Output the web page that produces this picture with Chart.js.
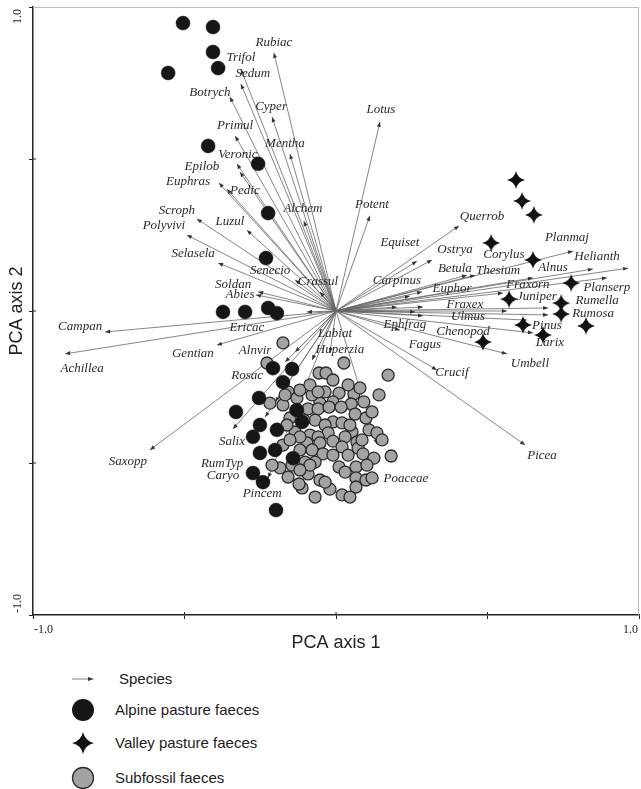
<!DOCTYPE html>
<html><head><meta charset="utf-8">
<script src="https://cdn.jsdelivr.net/npm/chart.js@4.4.1/dist/chart.umd.min.js"></script>
<style>
html,body{margin:0;padding:0;background:#fff;}
#wrap{position:relative;width:641px;height:789px;overflow:hidden;}
#c{position:absolute;left:0;top:0;}
.lg{position:absolute;left:0;font:15px "Liberation Sans",Arial,sans-serif;color:#222;line-height:20px;white-space:nowrap;}
.lg svg{position:absolute;}
</style></head><body>
<div id="wrap">
<canvas id="c" width="641" height="660"></canvas>
<div id="legend"></div>
</div>
<script>
// ---- data (PCA scores) ----
const speciesNames = ["Rubiac","Trifol","Sedum","Botrych","Cyper","Primul","Mentha","Veronic","Epilob","Euphras","Pedic","Scroph","Polyvivi","Luzul","Alchem","Selasela","Senecio","Crassul","Soldan","Abies","Ericac","Campan","Achillea","Gentian","Alnvir","Rosac","Labiat","Huperzia","Saxopp","Salix","RumTyp","Caryo","Pincem","Poaceae","Picea","Lotus","Potent","Querrob","Equiset","Ostrya","Carpinus","Betula","Thesium","Corylus","Planmaj","Helianth","Alnus","Planserp","Fraxorn","Euphor","Juniper","Rumella","Fraxex","Ulmus","Rumosa","Pinus","Ephfrag","Chenopod","Larix","Fagus","Umbell","Crucif"];
const speciesX = [-0.205,-0.314,-0.314,-0.350,-0.211,-0.333,-0.152,-0.327,-0.317,-0.386,-0.360,-0.459,-0.492,-0.294,-0.106,-0.389,-0.135,-0.053,-0.257,-0.264,-0.096,-0.762,-0.894,-0.393,-0.135,-0.168,-0.079,-0.020,-0.614,-0.340,-0.234,-0.201,-0.224,0.135,0.624,0.145,0.112,0.406,0.267,0.317,0.244,0.432,0.459,0.650,0.782,0.964,0.848,0.894,0.551,0.284,0.564,0.700,0.287,0.287,0.700,0.630,0.201,0.261,0.650,0.211,0.564,0.333];
const speciesY = [0.849,0.796,0.747,0.704,0.638,0.576,0.516,0.484,0.457,0.421,0.401,0.303,0.250,0.266,0.296,0.158,0.102,0.063,0.063,0.053,-0.003,-0.069,-0.141,-0.112,-0.135,-0.168,-0.161,-0.138,-0.457,-0.388,-0.349,-0.299,-0.549,-0.438,-0.441,0.622,0.313,0.280,0.164,0.168,0.049,0.118,0.118,0.109,0.197,0.141,0.138,0.109,0.059,0.063,0.000,0.010,0.013,-0.016,-0.013,-0.030,0.013,-0.003,-0.072,-0.063,-0.141,-0.194];

const alpineX = [-0.505,-0.406,-0.406,-0.554,-0.389,-0.422,-0.257,-0.224,-0.231,-0.373,-0.300,-0.224,-0.195,-0.208,-0.145,-0.175,-0.254,-0.330,-0.251,-0.195,-0.274,-0.201,-0.251,-0.129,-0.112,-0.142,-0.274,-0.241,-0.198];
const alpineY = [0.947,0.934,0.852,0.783,0.799,0.543,0.484,0.322,0.174,-0.003,-0.003,0.010,-0.007,-0.188,-0.191,-0.234,-0.286,-0.332,-0.375,-0.391,-0.414,-0.457,-0.467,-0.326,-0.365,-0.484,-0.533,-0.563,-0.655];

const valleyX = [0.594,0.614,0.653,0.512,0.650,0.776,0.571,0.743,0.743,0.617,0.683,0.825,0.485];
const valleyY = [0.431,0.362,0.316,0.224,0.168,0.092,0.039,0.026,-0.010,-0.046,-0.079,-0.049,-0.102];

const subfossilX = [-0.175,-0.228,0.026,-0.056,-0.033,-0.010,0.172,-0.158,-0.218,0.010,0.059,0.142,0.092,0.050,-0.010,-0.053,-0.092,-0.059,-0.023,0.017,0.063,-0.069,-0.010,0.020,-0.036,0.109,0.135,0.053,-0.086,-0.026,-0.059,0.030,0.069,-0.010,-0.096,-0.053,0.020,0.073,0.089,0.125,0.182,-0.079,-0.043,-0.102,-0.069,0.010,0.030,0.066,-0.092,-0.053,-0.020,0.066,0.066,0.020,-0.112,-0.036,-0.152,-0.135,-0.185,-0.158,-0.122,-0.119,-0.129,-0.175,-0.162,-0.175,-0.145,-0.211,-0.119,-0.106,-0.132,-0.036,-0.079,0.099,0.040,-0.010,0.099,-0.086,-0.152,
  -0.119,-0.086,0.040,0.079,0.119,0.152,0.102,0.046,-0.069,-0.119,0.046,0.086,-0.168,-0.059,0.119];
const subfossilY = [-0.105,-0.171,-0.171,-0.204,-0.204,-0.227,-0.211,-0.266,-0.303,-0.270,-0.273,-0.276,-0.299,-0.306,-0.299,-0.303,-0.322,-0.322,-0.316,-0.316,-0.339,-0.359,-0.365,-0.368,-0.375,-0.391,-0.401,-0.398,-0.408,-0.401,-0.414,-0.414,-0.431,-0.428,-0.434,-0.434,-0.447,-0.451,-0.470,-0.484,-0.477,-0.457,-0.470,-0.497,-0.497,-0.513,-0.530,-0.513,-0.536,-0.556,-0.586,-0.549,-0.579,-0.605,-0.582,-0.563,-0.352,-0.398,-0.516,-0.546,-0.569,-0.457,-0.286,-0.309,-0.375,-0.441,-0.507,-0.507,-0.414,-0.359,-0.326,-0.266,-0.276,-0.352,-0.474,-0.474,-0.556,-0.507,-0.424,
  -0.260,-0.243,-0.243,-0.253,-0.332,-0.424,-0.507,-0.612,-0.612,-0.523,-0.375,-0.424,-0.276,-0.266,-0.549];

const xTickLabels = ["-1.0","1.0"];
const yTickLabels = ["-1.0","1.0"];
const axisTitles = ["PCA axis 1","PCA axis 2"];
const legendLabels = ["Species","Alpine pasture faeces","Valley pasture faeces","Subfossil faeces"];

// ---- label placement (pixel nudges from arrow tips) ----
const labelNudge = [[0,-10],[0,-11],[12,-10],[-20,-4],[-1,-10],[0,-10],[-5,-11],[1,-9],[-38,-5],[-31,-1],[18,1],[-20,-8],[-23,-9],[-17,-9],[-1,-12],[-25,-9],[-25,-9],[-2,-10],[-25,-7],[-16,0],[-60,16],[-25,-5],[17,15],[-24,9],[-40,-1],[-38,14],[23,-26],[10,-3],[-22,12],[-1,13],[-43,46],[-52,74],[-6,16],[29,34],[17,11],[1,-12],[2,-11],[23,-9],[-17,-19],[23,-10],[-13,-16],[-12,-7],[23,-5],[-29,-23],[-6,-14],[-31,-12],[-40,-1],[0,10],[25,-8],[30,-3],[30,-14],[49,-7],[42,-2],[45,1],[45,-1],[20,5],[8,18],[48,20],[17,10],[25,14],[23,10],[15,3]];

// ---- styles ----
const INK = '#222';
const ARROW = '#666';
const SERIF = '"Liberation Serif","Times New Roman",serif';
function makeStar(size, color){
  const c = document.createElement('canvas'); c.width = size; c.height = size;
  const g = c.getContext('2d'); const h = size/2; const k = size*0.09;
  g.fillStyle = color; g.beginPath();
  g.moveTo(h,0);
  g.quadraticCurveTo(h+k,h-k,size,h);
  g.quadraticCurveTo(h+k,h+k,h,size);
  g.quadraticCurveTo(h-k,h+k,0,h);
  g.quadraticCurveTo(h-k,h-k,h,0);
  g.closePath(); g.fill();
  return c;
}
const starImg = makeStar(18,'#111');

const zip = (xs,ys)=>xs.map((v,i)=>({x:v,y:ys[i]}));
const arrowData = [];
speciesNames.forEach((n,i)=>{ arrowData.push({x:0,y:0},{x:speciesX[i],y:speciesY[i]},{x:null,y:null}); });

const arrowPlugin = {
  id:'arrowHeads',
  afterDatasetDraw(chart,args){
    if(args.index!==3) return;
    const xs=chart.scales.x, ys=chart.scales.y, ctx=chart.ctx;
    const ox=xs.getPixelForValue(0), oy=ys.getPixelForValue(0);
    ctx.save(); ctx.fillStyle='#333';
    speciesNames.forEach((n,i)=>{
      const tx=xs.getPixelForValue(speciesX[i]), ty=ys.getPixelForValue(speciesY[i]);
      const a=Math.atan2(ty-oy,tx-ox), L=5, W=2;
      ctx.beginPath();
      ctx.moveTo(tx,ty);
      ctx.lineTo(tx-L*Math.cos(a)+W*Math.sin(a), ty-L*Math.sin(a)-W*Math.cos(a));
      ctx.lineTo(tx-L*Math.cos(a)-W*Math.sin(a), ty-L*Math.sin(a)+W*Math.cos(a));
      ctx.closePath(); ctx.fill();
    });
    ctx.restore();
  },
  afterDatasetsDraw(chart){
    const xs=chart.scales.x, ys=chart.scales.y, ctx=chart.ctx;
    ctx.save();
    ctx.font='italic 13px '+SERIF;
    ctx.fillStyle='#2a2a2a'; ctx.textAlign='center'; ctx.textBaseline='middle';
    speciesNames.forEach((n,i)=>{
      const tx=xs.getPixelForValue(speciesX[i]), ty=ys.getPixelForValue(speciesY[i]);
      ctx.fillText(n, tx+labelNudge[i][0], ty+labelNudge[i][1]);
    });
    ctx.restore();
  }
};

const framePlugin = {
  id:'frame',
  afterDraw(chart){
    const {ctx, chartArea:a} = chart; const xs=chart.scales.x, ys=chart.scales.y;
    ctx.save();
    ctx.strokeStyle='#bdbdbd'; ctx.lineWidth=1;
    ctx.beginPath(); ctx.moveTo(a.left,a.top+0.5); ctx.lineTo(a.right,a.top+0.5);
    ctx.moveTo(a.right-0.5,a.top); ctx.lineTo(a.right-0.5,a.bottom); ctx.stroke();
    // inner half of tick marks
    ctx.strokeStyle=INK; ctx.lineWidth=1; ctx.beginPath();
    [-0.5,0,0.5].forEach(v=>{
      const px=xs.getPixelForValue(v); ctx.moveTo(px,a.bottom); ctx.lineTo(px,a.bottom-3);
      const py=ys.getPixelForValue(v); ctx.moveTo(a.left,py); ctx.lineTo(a.left+3,py);
    });
    ctx.stroke();
    ctx.font='12px '+SERIF;
    ctx.fillStyle=INK;
    // x tick labels (inside the axis range)
    ctx.textBaseline='top';
    ctx.textAlign='left';  ctx.fillText(xTickLabels[0], xs.getPixelForValue(-1)+1, a.bottom+9);
    ctx.textAlign='right'; ctx.fillText(xTickLabels[1], xs.getPixelForValue(1)-1, a.bottom+9);
    // y tick labels (rotated, inside the axis range)
    ctx.textBaseline='middle';
    const yTop=ys.getPixelForValue(1), yBot=ys.getPixelForValue(-1);
    ctx.save(); ctx.translate(18,yTop+2); ctx.rotate(-Math.PI/2); ctx.textAlign='right'; ctx.fillText(yTickLabels[1],0,0); ctx.restore();
    ctx.save(); ctx.translate(18,yBot-2); ctx.rotate(-Math.PI/2); ctx.textAlign='left'; ctx.fillText(yTickLabels[0],0,0); ctx.restore();
    ctx.restore();
  }
};

new Chart(document.getElementById('c'), {
  type:'scatter',
  data:{datasets:[
    {label:legendLabels[2], data:zip(valleyX,valleyY), pointStyle:starImg, pointRadius:9},
    {label:legendLabels[1], data:zip(alpineX,alpineY), pointRadius:7, backgroundColor:'#161616', borderColor:'#161616', borderWidth:0.5},
    {label:legendLabels[3], data:zip(subfossilX,subfossilY), pointRadius:6, backgroundColor:'#a3a3a3', borderColor:'#2b2b2b', borderWidth:1.3},
    {label:legendLabels[0], data:arrowData, showLine:true, spanGaps:false, pointRadius:0, borderColor:ARROW, borderWidth:0.8}
  ]},
  options:{
    responsive:false, animation:false, events:[],
    layout:{autoPadding:false, padding:{top:7,right:2,left:0,bottom:0}},
    plugins:{legend:{display:false}, tooltip:{enabled:false}},
    scales:{
      x:{type:'linear', min:-1, max:1,
        afterFit(s){ s.height=45; s.paddingLeft=0; s.paddingRight=0; },
        grid:{drawOnChartArea:false, drawTicks:true, tickLength:4, color:INK, lineWidth:1},
        border:{display:true, color:INK, width:1.5},
        ticks:{stepSize:0.5, autoSkip:false, display:false},
        title:{display:true, text:axisTitles[0], color:INK, font:{family:'"Liberation Sans",Arial,sans-serif', size:18}, padding:{top:0,bottom:6}}
      },
      y:{type:'linear', min:-1, max:1,
        afterFit(s){ s.width=33; s.paddingTop=0; s.paddingBottom=0; },
        grid:{drawOnChartArea:false, drawTicks:true, tickLength:4, color:INK, lineWidth:1},
        border:{display:true, color:INK, width:1.5},
        ticks:{stepSize:0.5, display:false},
        title:{display:true, text:axisTitles[1], color:INK, font:{family:'"Liberation Sans",Arial,sans-serif', size:18}, padding:{top:6,bottom:0}}
      }
    }
  },
  plugins:[arrowPlugin, framePlugin]
});

// ---- legend ----
const lg = document.getElementById('legend');
const rows = [679,710,743,778];
const sym = [
  '<svg width="24" height="10" style="left:71px;top:-5px"><line x1="1" y1="5" x2="18" y2="5" stroke="#666" stroke-width="0.8"/><path d="M23 5 L17 3 L17 7 Z" fill="#333"/></svg>',
  '<svg width="24" height="24" style="left:71px;top:-12px"><circle cx="12" cy="12" r="11" fill="#161616"/></svg>',
  '<svg width="24" height="24" style="left:71px;top:-12px"><path d="M12 1 Q14 10 23 12 Q14 14 12 23 Q10 14 1 12 Q10 10 12 1 Z" fill="#111"/></svg>',
  '<svg width="24" height="24" style="left:71px;top:-12px"><circle cx="12" cy="12" r="10.5" fill="#a3a3a3" stroke="#2b2b2b" stroke-width="1.3"/></svg>'
];
const textX = [119,115,115,115];
legendLabels.forEach((t,i)=>{
  const d=document.createElement('div'); d.className='lg'; d.style.top=rows[i]+'px'; d.style.width='641px'; d.style.height='0';
  d.innerHTML = sym[i] + '<span style="position:absolute;left:'+textX[i]+'px;top:-10px">'+t+'</span>';
  lg.appendChild(d);
});
</script>
</body></html>
